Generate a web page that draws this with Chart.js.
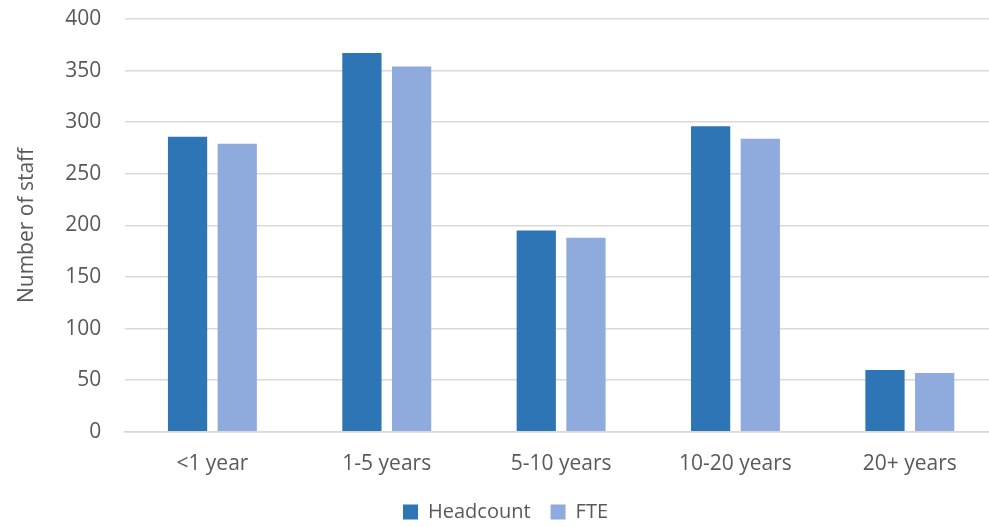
<!DOCTYPE html>
<html lang="en">
<head>
    <meta charset="UTF-8">
    <title>Number of staff by length of service</title>
    <script src="https://cdn.jsdelivr.net/npm/chart.js"></script>
    <style>
        html, body { margin: 0; padding: 0; background: #fff; overflow: hidden; }
        .grafico { position: relative; width: 997px; height: 532px; }
    </style>
</head>
<body>
    <div class="grafico">
        <canvas id="grafico_staff"></canvas>
    </div>

<script>
    // dados
    const categorias = ['<1 year', '1-5 years', '5-10 years', '10-20 years', '20+ years'];
    const headcount = [286, 367, 195, 296, 60];
    const fte = [279, 354, 188, 284, 57];
    const ticksY = [0, 50, 100, 150, 200, 250, 300, 350, 400];

    const fonte = '"Open Sans", "Noto Sans", sans-serif';
    const cinza = '#595959';

    const dados = {
        labels: categorias,
        datasets: [
            {
                label: 'Headcount',
                data: headcount,
                backgroundColor: '#2E75B6',
                categoryPercentage: 0.57,
                barPercentage: 0.79
            },
            {
                label: 'FTE',
                data: fte,
                backgroundColor: '#8FAADC',
                categoryPercentage: 0.57,
                barPercentage: 0.79
            }
        ]
    };

    const config = {
        type: 'bar',
        data: dados,
        options: {
            responsive: true,
            maintainAspectRatio: false,
            animation: false,
            layout: { padding: { top: 19, left: 14, right: 0, bottom: 0 } },
            plugins: {
                tooltip: { enabled: false },
                legend: {
                    position: 'bottom',
                    labels: {
                        boxWidth: 15,
                        boxHeight: 15,
                        padding: 20,
                        color: cinza,
                        font: { family: fonte, size: 20 }
                    }
                }
            },
            scales: {
                x: {
                    // espaco entre eixo e rotulos via tickLength (padding empurra a area)
                    grid: { display: false, drawTicks: true, tickLength: 20, tickColor: 'rgba(0,0,0,0)' },
                    border: { display: true, color: '#D9D9D9', width: 1.5 },
                    ticks: {
                        color: cinza,
                        padding: 0,
                        font: { family: fonte, size: 21 }
                    },
                    afterFit: function (axis) {
                        axis.height += 5;
                    }
                },
                y: {
                    min: 0,
                    max: 400,
                    afterBuildTicks: function (axis) {
                        axis.ticks = ticksY.map(function (v) { return { value: v }; });
                    },
                    grid: { color: '#D9D9D9', lineWidth: 1.5, drawTicks: true, tickLength: 24, tickColor: 'rgba(0,0,0,0)' },
                    border: { display: false },
                    ticks: {
                        color: cinza,
                        padding: 0,
                        font: { family: fonte, size: 21 }
                    },
                    title: {
                        display: true,
                        text: 'Number of staff',
                        color: cinza,
                        padding: { top: 0, bottom: 26 },
                        font: { family: fonte, size: 21 }
                    }
                }
            }
        }
    };

    new Chart(document.getElementById('grafico_staff'), config);
</script>
</body>
</html>
